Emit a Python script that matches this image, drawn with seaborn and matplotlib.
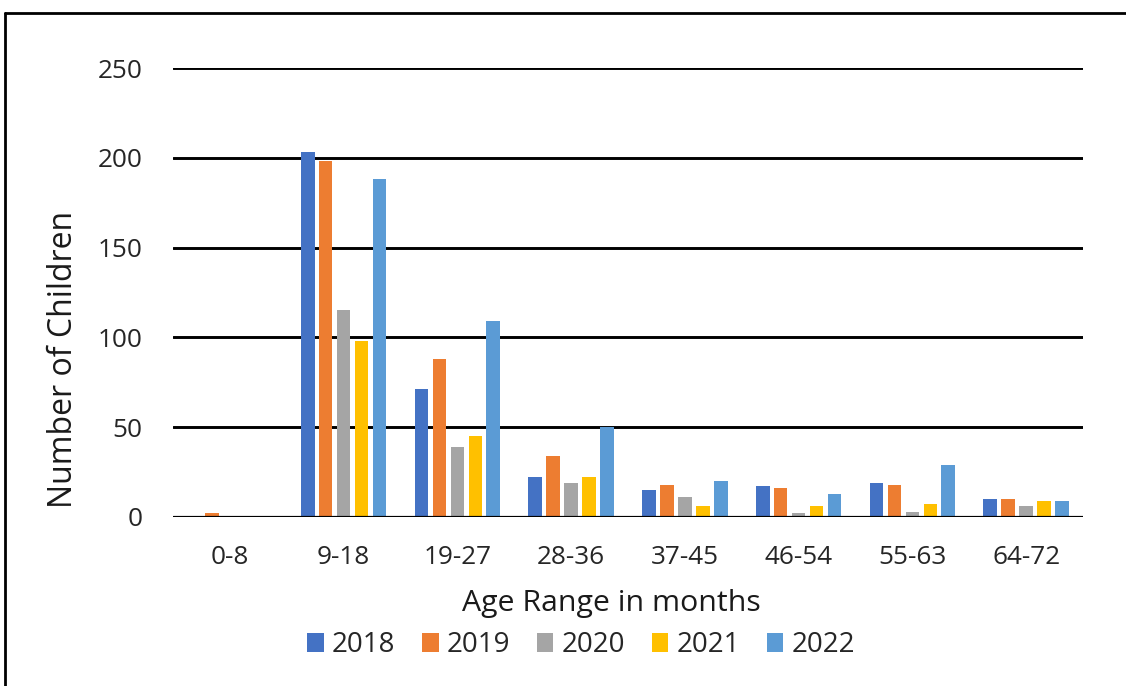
import matplotlib
matplotlib.use("Agg")
import matplotlib.pyplot as plt
from matplotlib.lines import Line2D
from matplotlib.patches import Patch
import seaborn as sns
import pandas as pd

# Age groups (months) and yearly counts of children
age_ranges = ["0-8", "9-18", "19-27", "28-36", "37-45", "46-54", "55-63", "64-72"]
years = ["2018", "2019", "2020", "2021", "2022"]
counts_2018 = [0, 203, 71, 22, 15, 17, 19, 10]
counts_2019 = [2, 198, 88, 34, 18, 16, 18, 10]
counts_2020 = [0, 115, 39, 19, 11, 2, 3, 6]
counts_2021 = [0, 98, 45, 22, 6, 6, 7, 9]
counts_2022 = [0, 188, 109, 50, 20, 13, 29, 9]
y_ticks = [0, 50, 100, 150, 200, 250]

colors = ["#4472C4", "#ED7D31", "#A5A5A5", "#FFC000", "#5B9BD5"]

series = [counts_2018, counts_2019, counts_2020, counts_2021, counts_2022]
rows = []
for yr, vals in zip(years, series):
    for age, v in zip(age_ranges, vals):
        rows.append({"age": age, "year": yr, "count": v})
df = pd.DataFrame(rows)

sns.set_style("white")
plt.rcParams["font.family"] = ["Open Sans", "DejaVu Sans"]

fig = plt.figure(figsize=(11.26, 6.86), dpi=100)
ax = fig.add_axes([173 / 1126, 1 - 517 / 686, (1083 - 173) / 1126, (517 - 68) / 686])

sns.barplot(data=df, x="age", y="count", hue="year", order=age_ranges,
            hue_order=years, palette=colors, saturation=1, width=0.79, gap=0.24,
            edgecolor="none", linewidth=0, legend=False, ax=ax, zorder=3)

ax.set_ylim(0, 250)
ax.set_xlim(-0.5, len(age_ranges) - 0.5)
ax.set_yticks(y_ticks)
ax.set_yticklabels([str(t) for t in y_ticks])
for sp in ax.spines.values():
    sp.set_visible(False)
ax.yaxis.grid(True, color="black", linewidth=2.1, zorder=1)
ax.set_axisbelow(True)
ax.axhline(0, color="black", linewidth=2.3, zorder=4)
ax.tick_params(axis="both", length=0, colors="#262626")
ax.tick_params(axis="y", pad=22, labelsize=18.8)
ax.tick_params(axis="x", pad=20, labelsize=18.8)

ax.set_xlabel("Age Range in months", fontsize=21.8, color="#1a1a1a")
ax.set_ylabel("Number of Children", fontsize=23, color="#1a1a1a")
ax.xaxis.label.set_va("center")
ax.yaxis.label.set_va("center")
ax.xaxis.set_label_coords((611.5 - 173) / 910, (517 - 603) / 449)
ax.yaxis.set_label_coords((64 - 173) / 910, (517 - 359) / 449)

handles = [Patch(facecolor=c, edgecolor="none") for c in colors]
fig.legend(handles, years, ncol=5, loc="center",
           bbox_to_anchor=(581 / 1126, 1 - 645 / 686), frameon=False,
           fontsize=20, handlelength=0.6, handleheight=0.65,
           handletextpad=0.3, columnspacing=0.95, labelcolor="#262626")

# Frame around the chart area (top and left edges visible)
fig.add_artist(Line2D([5 / 1126, 1.01], [1 - 13 / 686, 1 - 13 / 686],
                      transform=fig.transFigure, color="black", linewidth=2.0))
fig.add_artist(Line2D([5 / 1126, 5 / 1126], [-0.01, 1 - 13 / 686],
                      transform=fig.transFigure, color="black", linewidth=2.0))

fig.savefig("out.png", dpi=100)
